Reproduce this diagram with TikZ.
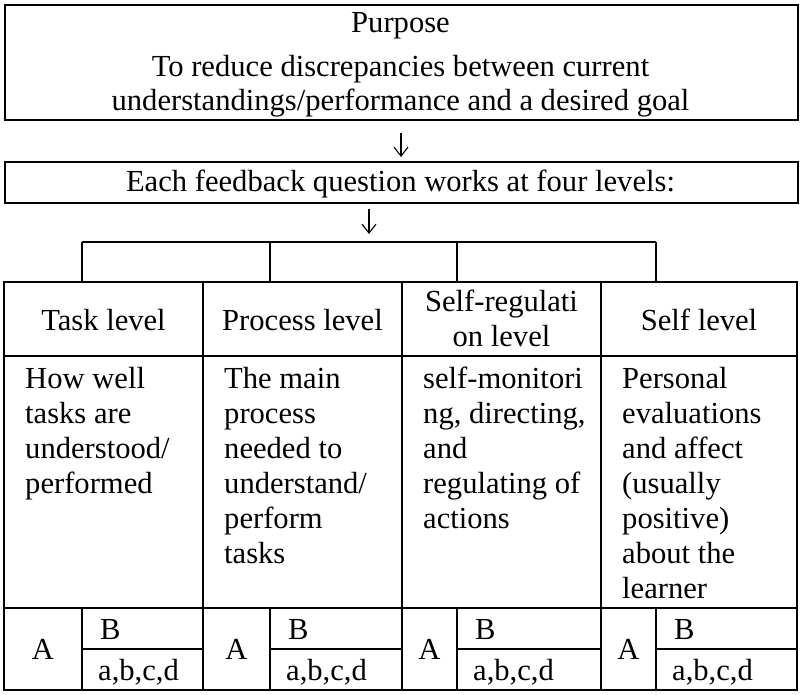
\documentclass[tikz,border=0pt]{standalone}
\usepackage{fontspec}
\setmainfont{Liberation Serif}
\usetikzlibrary{arrows.meta}
\begin{document}
\begin{tikzpicture}[x=1pt,y=-1pt,
  box/.style={draw, line width=1.8pt, inner sep=0pt, anchor=north west},
  grid/.style={line width=1.6pt},
  txt/.style={inner sep=0pt, font=\rmfamily\fontsize{30.6}{35}\selectfont},
  ctxt/.style={txt, anchor=base},
  ltxt/.style={txt, anchor=base west},
  body/.style={txt, align=left, anchor=base west},
  hdr/.style={txt, align=center, anchor=base},
  arr/.style={line width=1.1pt, -{Straight Barb[length=9pt,width=14pt,line width=1.1pt]}}
]
\useasboundingbox (0,0) rectangle (800,695);

% top boxes
\node[box, minimum width=793pt, minimum height=115pt] (purpose) at (4,4) {};
\node[ctxt] (t1) at (400.5,33) {Purpose};
\node[ctxt] (t2) at (400.5,77) {To reduce discrepancies between current};
\node[ctxt] (t3) at (400.5,111) {understandings/performance and a desired goal};

\coordinate (a1s) at (401,133);
\coordinate (a1e) at (401,157);
\draw[arr] (a1s) -- (a1e);

\node[box, minimum width=793pt, minimum height=41pt] (levels) at (4,161) {};
\node[ctxt] (t4) at (400.5,192) {Each feedback question works at four levels:};

\coordinate (a2s) at (369,209);
\coordinate (a2e) at (369,234);
\draw[arr] (a2s) -- (a2e);

% bracket
\coordinate (b1) at (82,242);
\coordinate (b2) at (270,242);
\coordinate (b3) at (457,242);
\coordinate (b4) at (656,242);
\draw[grid] (b1) -- (b4);
\foreach \c in {b1,b2,b3,b4} \draw[grid] (\c) -- ++(0,40);

% table
\draw[grid] (4,282) rectangle (797,690);
\foreach \x in {203,402,601} \draw[grid] (\x,282) -- (\x,690);
\draw[grid] (4,356) -- (797,356);
\draw[grid] (4,608) -- (797,608);
\foreach \s/\e in {82/203,270/402,457/601,656/797}{
  \draw[grid] (\s,608) -- (\s,690);
  \draw[grid] (\s,649) -- (\e,649);
}

% headers (base anchor = baseline of last line)
\node[ctxt] (h1) at (103.5,330) {Task level};
\node[ctxt] (h2) at (302.5,330) {Process level};
\node[hdr] (h3) at (501.5,346.5) {Self-regulati\\on level};
\node[ctxt] (h4) at (699,330) {Self level};

% body (first baseline 388, step 35; anchor on last line)
\node[body] (c1) at (25,493) {How well\\tasks are\\understood/\\performed};
\node[body] (c2) at (224,563) {The main\\process\\needed to\\understand/\\perform\\tasks};
\node[body] (c3) at (423,528) {self-monitori\\ng, directing,\\and\\regulating of\\actions};
\node[body] (c4) at (622,598) {Personal\\evaluations\\and affect\\(usually\\positive)\\about the\\learner};

% bottom row
\foreach \i/\ax/\sx in {1/43/82,2/236.5/270,3/429.5/457,4/628.5/656}{
  \node[ctxt] (A\i) at (\ax,659) {A};
  \node[ltxt] (B\i) at (\sx+18,639) {B};
  \node[ltxt] (D\i) at (\sx+16,680) {a,b,c,d};
}
\end{tikzpicture}
\end{document}
